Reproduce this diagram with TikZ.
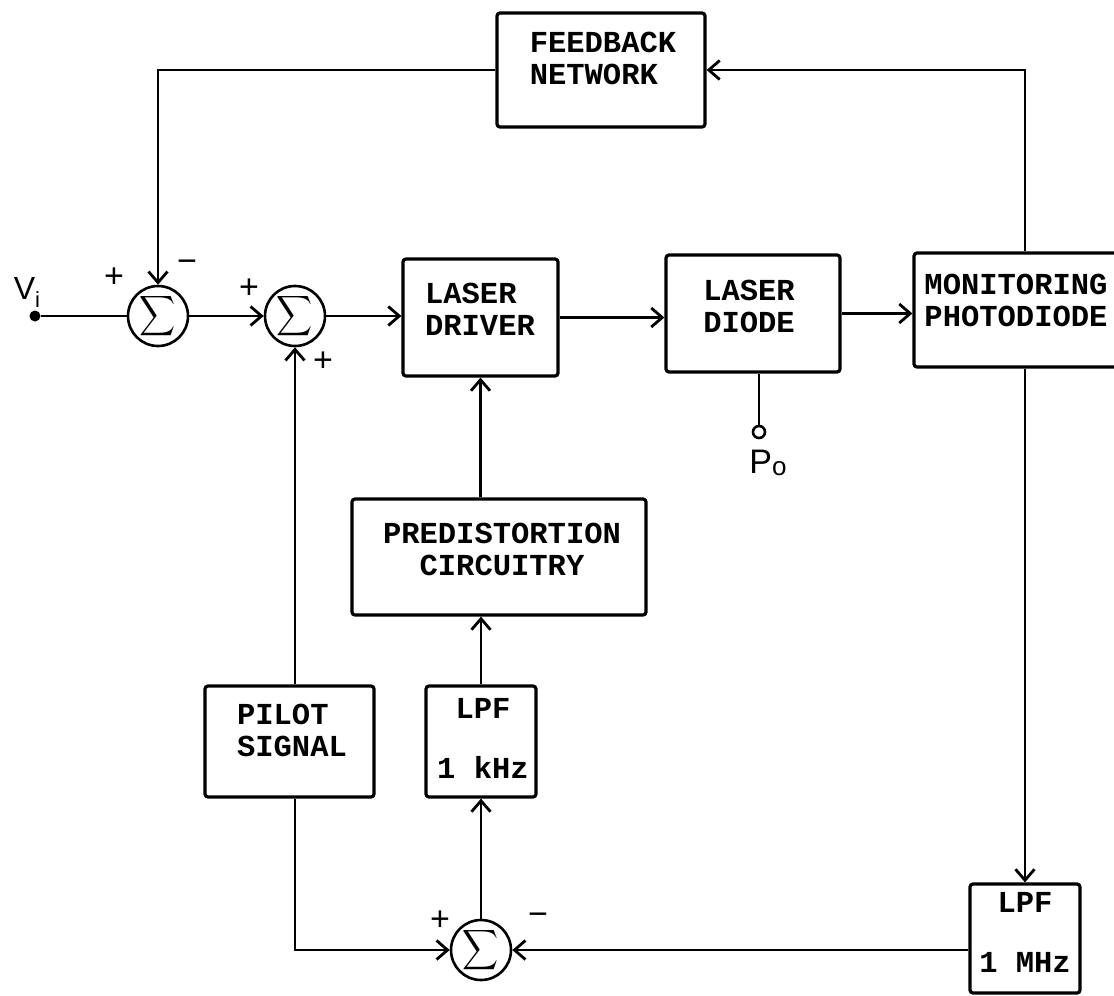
\documentclass[tikz,border=0pt]{standalone}
\usepackage{fontspec}
\usepackage{graphicx}
\newfontfamily\boxfont{Liberation Mono}
\newfontfamily\labfont{Liberation Sans}
\usetikzlibrary{arrows.meta,calc}
\begin{document}
\begin{tikzpicture}[x=1pt,y=-1pt,
  blk/.style={draw, line width=3.2pt, rounded corners=3pt, inner sep=0pt},
  txt/.style={font=\boxfont\bfseries\fontsize{30.5}{32}\selectfont, align=left, inner sep=0pt},
  ctxt/.style={txt, align=center},
  sumnode/.style={draw, circle, line width=2.6pt, minimum size=60pt, inner sep=0pt},
  wire/.style={line width=2.8pt},
  arr/.style={wire, -{Straight Barb[length=11pt,width=19pt]}},
  sgn/.style={font=\labfont\fontsize{34}{34}\selectfont, inner sep=0pt},
  lab/.style={font=\labfont\fontsize{32}{32}\selectfont, inner sep=0pt}
]
\useasboundingbox (0,0) rectangle (1114,996);
\clip (0,0) rectangle (1114,996);
\fill[white] (0,0) rectangle (1114,996);

% boxes
\node[blk, minimum width=208pt, minimum height=114pt] (fb) at (601,70) {};
\node[txt] (fbt) at (603,58) {FEEDBACK\\NETWORK};
\node[blk, minimum width=155pt, minimum height=117pt] (ld) at (480.5,317.5) {};
\node[txt] (ldt) at (480,309) {LASER\\DRIVER};
\node[blk, minimum width=174pt, minimum height=117pt] (dd) at (753,313.5) {};
\node[txt] (ddt) at (749,306) {LASER\\DIODE};
\node[blk, minimum width=222pt, minimum height=114pt] (mon) at (1025,310) {};
\node[txt] (mont) at (1016,300) {MONITORING\\PHOTODIODE};
\node[blk, minimum width=294pt, minimum height=116pt] (pd) at (499,557) {};
\node[ctxt] (pdt) at (502,549) {PREDISTORTION\\CIRCUITRY};
\node[blk, minimum width=169pt, minimum height=111pt] (pil) at (289.5,741.5) {};
\node[txt] (pilt) at (292,730) {PILOT\\SIGNAL};
\node[blk, minimum width=110pt, minimum height=111pt] (lpf1) at (481,741.5) {};
\node[ctxt] (lpf1t) at (483,738) {LPF\\[28pt]1 kHz};
\node[blk, minimum width=110pt, minimum height=109pt] (lpf2) at (1025,938.5) {};
\node[ctxt] (lpf2t) at (1025,932) {LPF\\[28pt]1 MHz};

% summing junctions
\node[sumnode] (s1) at (158,316) {\scalebox{2.5}[2.8]{$\displaystyle\sum$}};
\node[sumnode] (s2) at (295,316) {\scalebox{2.5}[2.8]{$\displaystyle\sum$}};
\node[sumnode] (s3) at (481,950) {\scalebox{2.5}[2.8]{$\displaystyle\sum$}};

% input / output terminals
\node[circle, fill, minimum size=11pt, inner sep=0pt] (vi) at (35,316) {};
\node[lab] (vil) at (27,292) {V\raisebox{-8pt}{\fontsize{22}{22}\selectfont i}};
\node[circle, draw, line width=2.6pt, minimum size=12pt, inner sep=0pt] (po) at (759,432) {};
\node[lab, font=\labfont\fontsize{34}{34}\selectfont] (pol) at (768,463) {P\raisebox{-2pt}{\fontsize{26}{26}\selectfont o}};

% signs
\node[sgn] (p1) at (114,278) {+};
\node[sgn] (m1) at (187,266) {−};
\node[sgn] (p2) at (249,289) {+};
\node[sgn] (p3) at (323,362) {+};
\node[sgn] (p4) at (440,921) {+};
\node[sgn] (m2) at (538,919) {−};

% connectors
\draw[wire] (vi) -- (s1);
\draw[arr] (s1) -- (s2);
\draw[arr] (s2) -- (s2 -| ld.west);
\draw[arr] (ld.east) -- (ld.east -| dd.west);
\draw[arr] (dd.east) -- (dd.east -| mon.west);
\draw[arr] (mon.north) |- (fb.east);
\draw[arr] (fb.west) -| (s1);
\draw[wire] (po |- dd.south) -- (po);
\draw[arr] (mon.south) -- (lpf2.north);
\draw[arr] (lpf2.west |- s3) -- (s3);
\draw[arr] (pil.south -| s2) |- (s3);
\draw[arr] (pil.north -| s2) -- (s2);
\draw[arr] (s3) -- (lpf1);
\draw[arr] (lpf1) -- (lpf1 |- pd.south);
\draw[arr] (pd.north -| ld) -- (ld);
\end{tikzpicture}
\end{document}
